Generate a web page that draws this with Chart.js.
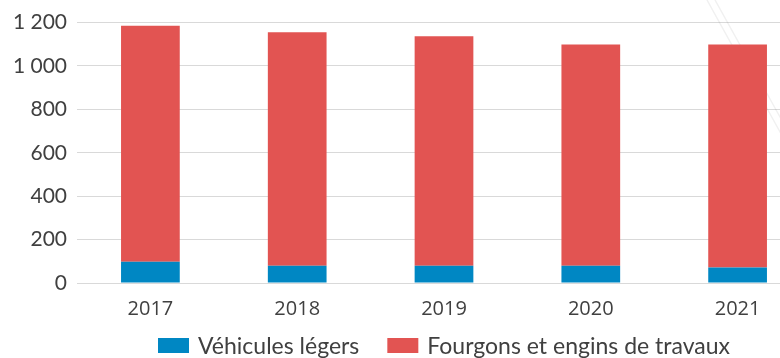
<!DOCTYPE html>
<html>
<head>
<meta charset="utf-8">
<script src="https://cdn.jsdelivr.net/npm/chart.js@4.4.0/dist/chart.umd.min.js"></script>
<style>
  html, body { margin: 0; padding: 0; overflow: hidden; background: #fff; }
  #wrap { width: 812px; height: 358px; position: relative; }
</style>
</head>
<body>
<div id="wrap"><canvas id="chart"></canvas></div>
<script>
var years = ['2017', '2018', '2019', '2020', '2021']
var vehiculesLegers = [98, 80, 80, 80, 71]
var fourgonsEngins = [1087, 1076, 1057, 1019, 1028]
var yMax = 1200
var yStep = 200

var blue = '#0087C3'
var red = '#E25452'
var textColor = '#404040'

function spaced(v) {
    return String(v).replace(/\B(?=(\d{3})+(?!\d))/g, ' ')
}

// faint diagonal strokes in the upper right of the background
var backdrop = {
    id: 'backdrop',
    beforeDraw: function (chart) {
        var ctx = chart.ctx
        ctx.save()
        ctx.strokeStyle = 'rgba(0,0,0,0.06)'
        ctx.lineWidth = 1.5
        ctx.beginPath()
        ctx.moveTo(707, 0); ctx.lineTo(790, 150)
        ctx.moveTo(715, 0); ctx.lineTo(790, 135)
        ctx.stroke()
        ctx.restore()
    }
}

// legend centred under the plot area
var legendRow = {
    id: 'legendRow',
    afterDraw: function (chart) {
        var ctx = chart.ctx
        var area = chart.chartArea
        var boxW = 31, boxH = 15, gapText = 9, gapItem = 28
        ctx.save()
        ctx.font = '23px Lato'
        ctx.textBaseline = 'middle'
        var items = chart.data.datasets.map(function (ds) {
            return { label: ds.label, color: ds.backgroundColor, w: ctx.measureText(ds.label).width }
        })
        var total = 0
        items.forEach(function (it, i) { total += boxW + gapText + it.w + (i ? gapItem : 0) })
        var x = (area.left + area.right) / 2 - total / 2
        var y = 345.5
        items.forEach(function (it) {
            ctx.fillStyle = it.color
            ctx.fillRect(x, y - boxH / 2, boxW, boxH)
            ctx.fillStyle = textColor
            ctx.fillText(it.label, x + boxW + gapText, y + 1)
            x += boxW + gapText + it.w + gapItem
        })
        ctx.restore()
    }
}

var chart = new Chart(document.getElementById('chart'), {
    type: 'bar',
    data: {
        labels: years,
        datasets: [
            { label: 'Véhicules légers', data: vehiculesLegers, backgroundColor: blue },
            { label: 'Fourgons et engins de travaux', data: fourgonsEngins, backgroundColor: red }
        ]
    },
    options: {
        responsive: true,
        maintainAspectRatio: false,
        animation: false,
        layout: { padding: { top: 21, right: 1, bottom: 35, left: 0 } },
        datasets: { bar: { categoryPercentage: 1, barPercentage: 0.4 } },
        plugins: { legend: { display: false }, tooltip: { enabled: false } },
        scales: {
            x: {
                stacked: true,
                grid: { display: false },
                border: { display: false },
                ticks: { color: textColor, font: { family: 'Open Sans', size: 20 }, padding: 6 },
                afterFit: function (s) { s.height = 40 }
            },
            y: {
                stacked: true,
                min: 0,
                max: yMax,
                z: 1,
                border: { display: false },
                grid: { color: 'rgba(0,0,0,0.15)', drawTicks: false },
                ticks: {
                    stepSize: yStep,
                    color: textColor,
                    font: { family: 'Lato', size: 21 },
                    padding: 10,
                    callback: function (v) { return spaced(v) }
                },
                afterFit: function (s) { s.width = 77 }
            }
        }
    },
    plugins: [backdrop, legendRow]
})
</script>
</body>
</html>
